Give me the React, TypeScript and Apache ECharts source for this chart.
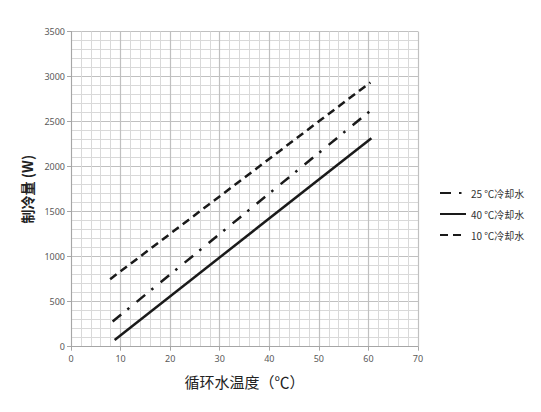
import React, { useEffect, useRef } from "react";
import * as echarts from "echarts";

const seriesNames = ["25 ℃冷却水", "40 ℃冷却水", "10 ℃冷却水"];
const line25: [number, number][] = [[8.4, 280], [61.4, 2665]];
const line40: [number, number][] = [[8.8, 75], [60.6, 2315]];
const line10: [number, number][] = [[7.9, 750], [60.4, 2935]];

const xMin = 0, xMax = 70, xStep = 10;
const yMin = 0, yMax = 3500, yStep = 500;

export default function App() {
  const ref = useRef<HTMLDivElement>(null);
  useEffect(() => {
    if (!ref.current) return;
    const chart = echarts.init(ref.current, undefined, { renderer: "svg" });
    const numFont = { fontFamily: "Noto Sans", fontSize: 9, color: "#595959", formatter: (v: number) => String(v) };
    const gridMajor = { show: true, lineStyle: { color: "#c0c0c0", width: 1.2 } };
    const gridMinor = { show: true, lineStyle: { color: "#d9d9d9", width: 1 } };
    const ink = "#1a1a1a";
    chart.setOption({
      animation: false,
      backgroundColor: "#ffffff",
      color: [ink, ink, ink],
      grid: { left: 71, right: 123, top: 31.5, bottom: 65.3 },
      legend: {
        orient: "vertical",
        left: 434,
        top: 183,
        itemWidth: 26,
        itemHeight: 12,
        itemGap: 11,
        data: seriesNames,
        itemStyle: { opacity: 0 },
        textStyle: { fontFamily: "Noto Sans CJK SC", fontSize: 10, color: "#333" },
      },
      xAxis: {
        type: "value",
        min: xMin,
        max: xMax,
        interval: xStep,
        name: "循环水温度（℃）",
        nameLocation: "middle",
        nameGap: 27,
        nameTextStyle: { fontFamily: "Noto Sans CJK SC", fontSize: 15, color: "#222" },
        axisLine: { show: true, lineStyle: { color: "#a6a6a6" } },
        axisTick: { show: true, length: 4, lineStyle: { color: "#a6a6a6" } },
        axisLabel: { ...numFont, margin: 7 },
        splitLine: gridMajor,
        minorTick: { show: false, splitNumber: 5 },
        minorSplitLine: gridMinor,
      },
      yAxis: {
        type: "value",
        min: yMin,
        max: yMax,
        interval: yStep,
        name: "制冷量 (W)",
        nameLocation: "middle",
        nameRotate: 90,
        nameGap: 34,
        nameTextStyle: { fontFamily: "Noto Sans CJK SC", fontSize: 14, fontWeight: "bold", color: "#222" },
        axisLine: { show: true, lineStyle: { color: "#a6a6a6" } },
        axisTick: { show: true, length: 4, lineStyle: { color: "#a6a6a6" } },
        axisLabel: { ...numFont, margin: 6 },
        splitLine: gridMajor,
        minorTick: { show: false, splitNumber: 5 },
        minorSplitLine: gridMinor,
      },
      series: [
        {
          name: seriesNames[0],
          type: "line",
          data: line25,
          symbol: "none",
          itemStyle: { color: ink },
          lineStyle: { color: ink, width: 2.5, type: [11, 8, 2.5, 9.5] },
        },
        {
          name: seriesNames[1],
          type: "line",
          data: line40,
          symbol: "none",
          itemStyle: { color: ink },
          lineStyle: { color: ink, width: 2.5, type: "solid" },
        },
        {
          name: seriesNames[2],
          type: "line",
          data: line10,
          symbol: "none",
          itemStyle: { color: ink },
          lineStyle: { color: ink, width: 2.5, type: [8, 5] },
        },
      ],
    });
    return () => chart.dispose();
  }, []);
  return (
    <div
      ref={ref}
      style={{ position: "fixed", left: 0, top: 0, width: 541, height: 412 }}
    />
  );
}
